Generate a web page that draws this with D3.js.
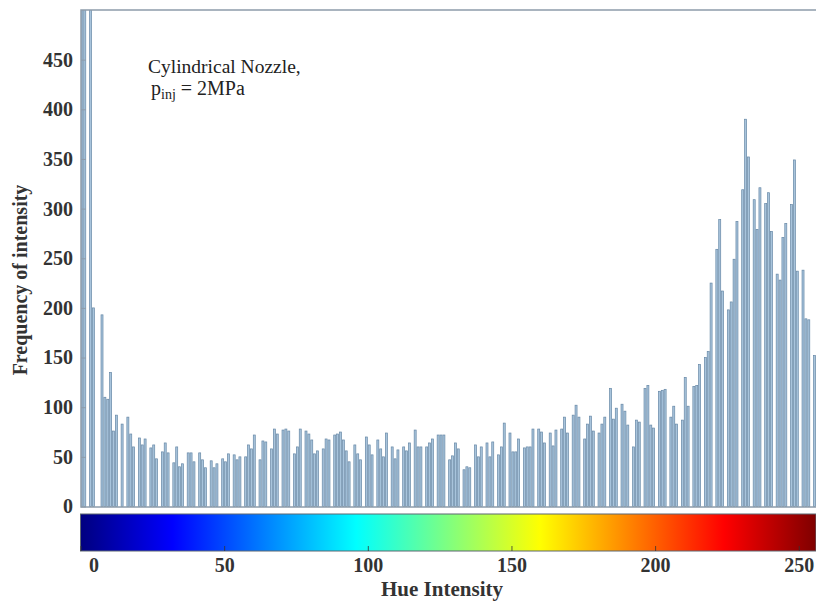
<!DOCTYPE html>
<html>
<head>
<meta charset="utf-8">
<script src="https://cdn.jsdelivr.net/npm/d3@7"></script>
<style>
  body { margin: 0; background: #fff; }
  text { font-family: "Liberation Serif", "Times New Roman", serif; }
</style>
</head>
<body>
<div class="chart"></div>
<script>
// hue levels that have pixels, and their counts
var hueBins = [0,1,3,4,7,8,9,10,11,12,14,16,17,18,20,21,22,24,25,26,28,29,30,32,33,34,35,37,38,39,41,42,43,
  45,46,47,49,50,51,53,54,55,57,58,59,60,62,63,64,66,67,68,70,71,72,74,75,76,78,79,80,81,82,84,85,86,
  88,89,90,91,92,93,95,96,97,99,100,101,103,104,105,106,108,109,110,112,113,114,116,117,118,120,121,122,124,125,126,128,129,130,
  131,133,134,135,137,138,139,141,142,143,145,146,147,149,150,151,152,154,155,156,157,159,160,161,163,164,165,167,168,169,171,172,173,
  175,176,177,178,180,181,182,184,185,186,188,189,190,192,193,194,196,197,198,199,201,202,203,205,206,207,209,210,211,213,214,215,
  217,218,219,221,222,223,225,226,227,228,230,231,232,234,235,236,238,239,240,242,243,244,245,247,248,249,251,252,253,255];

var counts = [900,900,900,200,193,110,108,135,76,92,83,90,73,60,69,62,68,59,62,48,55,64,54,44,60,40,43,54,54,45,54,47,39,
  46,39,43,48,45,53,52,47,50,50,62,58,72,47,66,65,58,78,73,77,78,76,53,60,78,76,73,67,53,56,58,68,67,
  72,73,75,67,56,45,62,53,47,70,62,52,67,58,50,74,60,48,57,60,56,64,77,60,60,60,64,68,72,72,72,47,51,64,
  58,37,40,39,62,50,60,64,50,65,52,60,84,74,55,55,68,59,60,60,78,78,75,64,74,61,77,78,90,74,92,102,90,
  68,83,91,76,74,83,90,119,88,99,103,96,82,60,87,85,119,122,82,79,116,117,118,90,101,83,87,130,101,121,122,143,
  150,156,225,259,289,217,198,206,249,287,319,390,352,309,279,321,305,316,277,234,228,271,285,304,349,237,238,189,188,152];

var yTicks = [0,50,100,150,200,250,300,350,400,450];
var cbTicks = [0,50,100,150,200,250];

// jet colormap stops for the colour bar
var jetStops = [
  [0, '#00007f'], [0.125, '#0000ff'], [0.375, '#00ffff'],
  [0.625, '#ffff00'], [0.875, '#ff0000'], [1, '#7f0000']
];

var data = hueBins.map((b, i) => ({ bin: b, count: counts[i] }));

var width = 816, height = 603;
var plot = { left: 81, right: 816, top: 10, bottom: 507 };

var svg = d3.select('.chart')
  .append('svg')
  .attr('width', width)
  .attr('height', height);

var xScale = d3.scaleLinear()
  .domain([0, 256])
  .range([80.5, 816]);

var yScale = d3.scaleLinear()
  .domain([0, 500])
  .range([506.5, 10]);

svg.append('clipPath')
  .attr('id', 'plotClip')
  .append('rect')
  .attr('x', plot.left)
  .attr('y', plot.top)
  .attr('width', plot.right - plot.left)
  .attr('height', plot.bottom - plot.top);

// bars
svg.append('g')
  .attr('clip-path', 'url(#plotClip)')
  .selectAll('.bar')
  .data(data)
  .enter()
  .append('rect')
  .attr('class', 'bar')
  .attr('x', d => xScale(d.bin) + 0.4)
  .attr('width', 2)
  .attr('y', d => yScale(d.count))
  .attr('height', d => yScale(0) - yScale(d.count))
  .style('fill', '#a8c4dc')
  .style('stroke', '#6788a6')
  .style('stroke-width', 0.7);

// frame
svg.append('rect')
  .attr('x', plot.left)
  .attr('y', plot.top)
  .attr('width', plot.right - plot.left + 2)
  .attr('height', plot.bottom - plot.top)
  .style('fill', 'none')
  .style('stroke', '#8d9cab')
  .style('stroke-width', 1.5);

// y axis
var yAxis = svg.append('g')
  .attr('class', 'yAxis')
  .attr('transform', 'translate(' + plot.left + ',0)')
  .call(d3.axisLeft(yScale).tickValues(yTicks).tickSize(-5).tickPadding(8));

yAxis.select('.domain').remove();
yAxis.selectAll('line').style('stroke', '#8d9cab');
yAxis.selectAll('text')
  .style('font-size', '20px')
  .style('font-weight', 'bold')
  .style('fill', '#333');

svg.append('text')
  .attr('transform', 'translate(27,280) rotate(-90)')
  .style('text-anchor', 'middle')
  .style('font-size', '20px')
  .style('font-weight', 'bold')
  .style('fill', '#333')
  .text('Frequency of intensity');

// colour bar
var grad = svg.append('defs')
  .append('linearGradient')
  .attr('id', 'jet')
  .attr('x1', '0%').attr('x2', '100%')
  .attr('y1', '0%').attr('y2', '0%');

grad.selectAll('stop')
  .data(jetStops)
  .enter()
  .append('stop')
  .attr('offset', d => d[0] * 100 + '%')
  .attr('stop-color', d => d[1]);

var cbTop = 514, cbBottom = 551;

svg.append('rect')
  .attr('x', xScale(0))
  .attr('y', cbTop)
  .attr('width', xScale(256) - xScale(0))
  .attr('height', cbBottom - cbTop)
  .style('fill', 'url(#jet)')
  .style('stroke', '#5d6670')
  .style('stroke-width', 1);

var cbAxis = svg.append('g')
  .attr('transform', 'translate(0,' + cbBottom + ')')
  .call(d3.axisBottom(xScale).tickValues(cbTicks).tickSize(-5).tickPadding(7));

cbAxis.select('.domain').remove();
cbAxis.selectAll('line').style('stroke', '#333').style('stroke-width', 0.8);
cbAxis.selectAll('text')
  .style('font-size', '20px')
  .style('font-weight', 'bold')
  .style('fill', '#333')
  .attr('dx', d => d === 0 ? 13 : 0);

svg.append('text')
  .attr('x', 442)
  .attr('y', 596)
  .style('text-anchor', 'middle')
  .style('font-size', '21px')
  .style('font-weight', 'bold')
  .style('fill', '#333')
  .text('Hue Intensity');

// annotation
svg.append('text')
  .attr('x', 148)
  .attr('y', 73)
  .style('font-size', '19.5px')
  .style('fill', '#222')
  .text('Cylindrical Nozzle,');

var note = svg.append('text')
  .attr('x', 151)
  .attr('y', 95)
  .style('font-size', '20px')
  .style('fill', '#222');
note.append('tspan').text('p');
note.append('tspan').attr('dy', 4).style('font-size', '14px').text('inj');
note.append('tspan').attr('dy', -4).text(' = 2MPa');
</script>
</body>
</html>
